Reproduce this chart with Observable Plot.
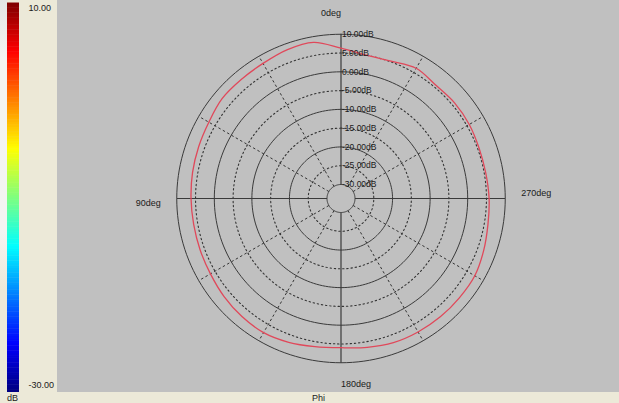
<!DOCTYPE html>
<html>
<head>
<meta charset="utf-8">
<script src="https://cdn.jsdelivr.net/npm/d3@7"></script>
<script src="https://cdn.jsdelivr.net/npm/@observablehq/plot@0.6"></script>
<style>
  html, body { margin: 0; padding: 0; background: #ece9d8; }
  #chart { position: relative; width: 619px; height: 403px; background: #ece9d8; overflow: hidden;
           font-family: "Liberation Sans", Arial, sans-serif; color: #1a1a1a; }
  #strip { position: absolute; left: 0; top: 0; width: 7px; height: 290px;
           background: linear-gradient(to bottom, #e4e4e4, #f4f4f2 20%, #f4f4f2 80%, #ece9d8); }
  #bar { position: absolute; left: 0; top: 0; }
  #main { position: absolute; left: 57px; top: 0; }
  .lbl { position: absolute; font-size: 9px; line-height: 9px; white-space: nowrap; }
</style>
</head>
<body>
<div id="chart">
  <div id="strip"></div>
  <div id="bar"></div>
  <div id="main"></div>
  <div class="lbl" style="left:7px; top:394px;">dB</div>
  <div class="lbl" style="left:312px; top:394px;">Phi</div>
</div>
<script>
// ---- data ----
const phiDeg = [0,10,20,30,40,50,60,70,80,90,100,110,120,130,140,150,160,170,
                180,190,200,210,220,230,240,250,260,270,280,290,300,310,320,330,340,350];
const gainDb = [6.3,8.5,8.4,7.8,7.6,7.6,6.9,6.6,6.4,6.2,6.1,6.2,6.4,6.9,7.3,7.5,7.0,6.3,
                6.0,6.5,7.1,7.3,7.4,7.4,7.4,6.7,6.0,5.7,5.4,5.4,5.7,5.8,5.6,6.3,5.2,5.0];
const solidRings = [10, 0, -10, -20, -30];
const dottedRings = [5, -5, -15, -25];
const ringTicks = [10, 5, 0, -5, -10, -15, -20, -25, -30];
const solidSpokes = [0, 90, 180, 270];
const dashedSpokes = [30, 60, 120, 150, 210, 240, 300, 330];
const angleLabels = ["0deg", "90deg", "180deg", "270deg"];
const labelAngles = [0, 90, 180, 270];
const colorStops = [-30, -25, -20, -15, -10, -5, 0, 5, 10];
const jetColors = ["#00007f","#0000ff","#007fff","#00ffff","#7fff7f","#ffff00","#ff7f00","#ff0000","#7f0000"];
const barTop = 10, barBottom = -30;

const font = "Liberation Sans, Arial, sans-serif";

// ---- colour bar ----
const step = 0.25;
const bands = d3.range(barBottom, barTop, step);
const bar = Plot.plot({
  width: 57, height: 403,
  marginTop: 3, marginBottom: 11, marginLeft: 7, marginRight: 38,
  x: {domain: [0, 1], axis: null},
  y: {domain: [barBottom, barTop], axis: null},
  color: {type: "linear", domain: colorStops, range: jetColors, interpolate: "rgb"},
  style: {background: "transparent", overflow: "visible"},
  marks: [
    Plot.rect(bands, {x1: 0, x2: 1, y1: d => d, y2: d => d + step + 0.05, fill: d => d + step / 2}),
    Plot.text([barTop], {x: 1, y: d => d, text: d => d.toFixed(2), textAnchor: "start", dx: 9,
      dy: 5, fontSize: 9, fill: "#1a1a1a", fontFamily: font}),
    Plot.text([barBottom], {x: 1, y: d => d, text: d => d.toFixed(2), textAnchor: "start", dx: 9,
      dy: -7, fontSize: 9, fill: "#1a1a1a", fontFamily: font})
  ]
});
document.getElementById("bar").appendChild(bar);

// ---- polar plot ----
const W = 562, H = 392, cx = 283.5, cy = 198;
const r = d3.scaleLinear().domain([-30, 10]).range([14, 164.25]);
const rad = a => a * Math.PI / 180;
const px = (a, v) => -r(v) * Math.sin(rad(a));
const py = (a, v) => r(v) * Math.cos(rad(a));

const ringPts = rings => rings.flatMap(v => d3.range(0, 361, 2).map(a => ({v, a})));
const spokeSegs = spokes => spokes.map(a => ({a}));
const pattern = phiDeg.map((a, i) => ({a, g: gainDb[i]}));
const outer = r(10);
const lab = angleLabels.map((text, i) => ({text, a: labelAngles[i]}));
const vGap = 21, hGap = 16;

const main = Plot.plot({
  width: W, height: H,
  margin: 0,
  x: {domain: [-cx, W - cx], axis: null},
  y: {domain: [-(H - cy), cy], axis: null},
  style: {background: "#c0c0c0", overflow: "visible"},
  marks: [
    Plot.line(ringPts(dottedRings), {x: d => px(d.a, d.v), y: d => py(d.a, d.v), z: "v",
      stroke: "#333", strokeWidth: 1.1, strokeDasharray: "1.4,2.8"}),
    Plot.line(ringPts(solidRings), {x: d => px(d.a, d.v), y: d => py(d.a, d.v), z: "v",
      stroke: "#3a3a3a", strokeWidth: 1}),
    Plot.link(spokeSegs(dashedSpokes), {
      x1: d => px(d.a, -30), y1: d => py(d.a, -30), x2: d => px(d.a, 10), y2: d => py(d.a, 10),
      stroke: "#333", strokeWidth: 1, strokeDasharray: "2.5,2.5"}),
    Plot.link(spokeSegs(solidSpokes), {
      x1: d => px(d.a, -30), y1: d => py(d.a, -30), x2: d => px(d.a, 10), y2: d => py(d.a, 10),
      stroke: "#3a3a3a", strokeWidth: 1.2}),
    Plot.line(pattern, {x: d => px(d.a, d.g), y: d => py(d.a, d.g),
      stroke: "#e0485a", strokeWidth: 1.3, curve: "catmull-rom-closed"}),
    Plot.text(ringTicks, {x: 0, y: d => r(d), text: d => d.toFixed(2) + "dB",
      textAnchor: "start", dx: 1, fontSize: 8.5, fill: "#1a1a1a", fontFamily: font}),
    // 0deg (top, right-aligned to the axis)
    Plot.text(lab.filter(d => d.a === 0), {x: 0, y: outer + vGap, text: "text",
      textAnchor: "end", fontSize: 9, fill: "#1a1a1a", fontFamily: font}),
    // 180deg (bottom, left-aligned to the axis)
    Plot.text(lab.filter(d => d.a === 180), {x: 0, y: -(outer + vGap), text: "text",
      textAnchor: "start", fontSize: 9, fill: "#1a1a1a", fontFamily: font}),
    // 90deg (left)
    Plot.text(lab.filter(d => d.a === 90), {x: -(outer + hGap), y: 0, text: "text",
      textAnchor: "end", dy: 5, fontSize: 9, fill: "#1a1a1a", fontFamily: font}),
    // 270deg (right)
    Plot.text(lab.filter(d => d.a === 270), {x: outer + hGap, y: 0, text: "text",
      textAnchor: "start", dy: -5, fontSize: 9, fill: "#1a1a1a", fontFamily: font})
  ]
});
document.getElementById("main").appendChild(main);
</script>
</body>
</html>
